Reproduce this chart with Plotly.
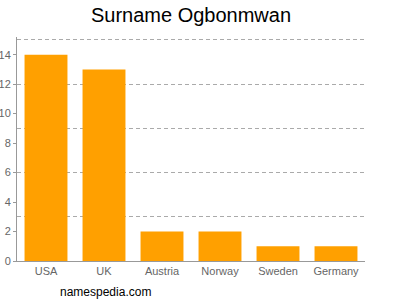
import plotly.graph_objects as go

countries = ["USA", "UK", "Austria", "Norway", "Sweden", "Germany"]
counts = [14, 13, 2, 2, 1, 1]
y_ticks = [0, 2, 4, 6, 8, 10, 12, 14]

fig = go.Figure()
# invisible helper on the main axis so its dashed grid (every 3) is drawn below the bars
fig.add_trace(go.Scatter(x=countries, y=counts, mode="markers", marker_opacity=0,
                         showlegend=False, hoverinfo="skip"))
fig.add_trace(go.Bar(x=countries, y=counts, yaxis="y2", marker_color="#FFA000",
                     marker_line_width=0, showlegend=False))

fig.update_layout(
    width=400, height=300,
    margin=dict(l=17, r=35, t=37, b=39),
    paper_bgcolor="white", plot_bgcolor="white",
    title=dict(text="Surname Ogbonmwan", xref="paper", x=0.5, xanchor="center",
               y=0.95, yanchor="middle",
               font=dict(family="Liberation Sans, Arial", size=20, color="#000")),
    bargap=0.26,
    font=dict(family="Liberation Sans, Arial", size=11, color="#666"),
    xaxis=dict(showline=True, linecolor="#999", linewidth=1, ticks="", automargin=False,
               tickfont=dict(size=11, color="#666")),
    yaxis=dict(range=[0, 15.2], dtick=3, showgrid=True, gridcolor="#aaa", griddash="4px,3px",
               gridwidth=1, showticklabels=False, zeroline=False, showline=False,
               automargin=False),
    yaxis2=dict(range=[0, 15.2], overlaying="y", side="left", tickvals=y_ticks,
                showgrid=False, showline=True, linecolor="#999", linewidth=1,
                ticks="outside", ticklen=3, tickcolor="#999", automargin=False,
                tickfont=dict(size=11, color="#666"), zeroline=False),
)
fig.layout.annotations = [dict(text="namespedia.com", xref="paper", yref="paper",
                               x=(58 - 17) / 348, y=-31 / 224, xanchor="left", yanchor="middle",
                               showarrow=False, font=dict(size=12, color="#000"))]
fig.write_html("out.html", config={"displayModeBar": False},
               post_script="document.body.style.margin='0';")
